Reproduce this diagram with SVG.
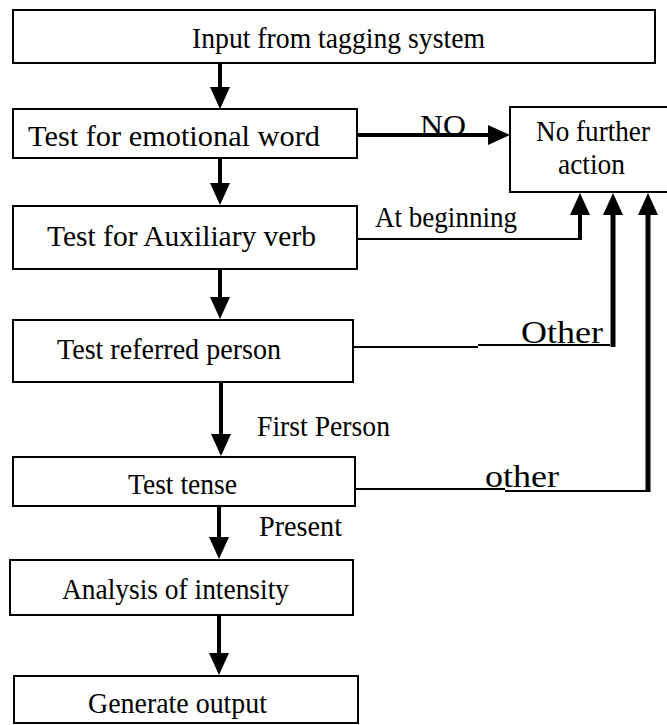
<svg xmlns="http://www.w3.org/2000/svg" width="667" height="725" viewBox="0 0 667 725">
  <style>
    .node rect { fill: #fff; stroke: #000; stroke-width: 2; }
    text { font-family: "Liberation Serif", "Times New Roman", serif; font-size: 30px; fill: #000; }
    .lbl { font-size: 29px; }
    .big { font-size: 31px; }
    .flow { stroke: #000; stroke-width: 4; fill: none; }
    .thin { stroke: #000; stroke-width: 2; fill: none; }
    .thick { stroke: #000; stroke-width: 5; fill: none; }
  </style>
  <defs>
    <!-- solid triangular head; line ends 4px inside the base, tip 18px beyond -->
    <marker id="head" viewBox="0 0 22 20" refX="4" refY="10" markerWidth="22" markerHeight="20" markerUnits="userSpaceOnUse" orient="auto">
      <path d="M0,0 L22,10 L0,20 z" fill="#000"/>
    </marker>
  </defs>

  <!-- connectors -->
  <g id="connectors">
    <line class="flow" x1="220" y1="63" x2="220" y2="91" marker-end="url(#head)"/>
    <line class="flow" x1="220" y1="158" x2="220" y2="187" marker-end="url(#head)"/>
    <line class="flow" x1="220" y1="269" x2="220" y2="301" marker-end="url(#head)"/>
    <line class="flow" x1="221" y1="382" x2="221" y2="438" marker-end="url(#head)"/>
    <line class="flow" x1="219" y1="506" x2="219" y2="541" marker-end="url(#head)"/>
    <line class="flow" x1="219" y1="615" x2="219" y2="657" marker-end="url(#head)"/>

    <!-- NO branch -->
    <line class="flow" x1="357" y1="135" x2="492" y2="135" marker-end="url(#head)"/>

    <!-- At beginning branch -->
    <polyline class="thin" points="357,239 580,239"/>
    <line class="flow" x1="580" y1="240" x2="580" y2="211" marker-end="url(#head)"/>

    <!-- Other branch -->
    <polyline class="thin" points="353,347 478,347"/>
    <polyline class="thin" points="478,345 610,345"/>
    <line class="thick" x1="613" y1="347" x2="613" y2="211" marker-end="url(#head)"/>

    <!-- other branch -->
    <polyline class="thin" points="355,489 505,489"/>
    <polyline class="thin" points="505,491 648,491"/>
    <line class="thick" x1="648" y1="492" x2="648" y2="211" marker-end="url(#head)"/>
  </g>

  <!-- nodes -->
  <g id="input" class="node">
    <rect x="13" y="10" width="642" height="53"/>
    <text x="192" y="48" textLength="293" lengthAdjust="spacingAndGlyphs">Input from tagging system</text>
  </g>
  <g id="emotional" class="node">
    <rect x="13" y="109" width="344" height="49"/>
    <text x="28" y="146" textLength="292" lengthAdjust="spacingAndGlyphs">Test for emotional word</text>
  </g>
  <g id="nofurther" class="node">
    <rect x="510" y="107" width="170" height="85"/>
    <text x="536" y="141" textLength="114" lengthAdjust="spacingAndGlyphs">No further</text>
    <text x="558" y="174" textLength="67" lengthAdjust="spacingAndGlyphs">action</text>
  </g>
  <g id="auxiliary" class="node">
    <rect x="13" y="206" width="344" height="63"/>
    <text x="47" y="246" textLength="269" lengthAdjust="spacingAndGlyphs">Test for Auxiliary verb</text>
  </g>
  <g id="person" class="node">
    <rect x="13" y="320" width="340" height="62"/>
    <text x="57" y="359" textLength="224" lengthAdjust="spacingAndGlyphs">Test referred person</text>
  </g>
  <g id="tense" class="node">
    <rect x="13" y="457" width="342" height="49"/>
    <text x="128" y="494" textLength="109" lengthAdjust="spacingAndGlyphs">Test tense</text>
  </g>
  <g id="intensity" class="node">
    <rect x="10" y="560" width="343" height="55"/>
    <text x="62" y="599" textLength="227" lengthAdjust="spacingAndGlyphs">Analysis of intensity</text>
  </g>
  <g id="output" class="node">
    <rect x="14" y="676" width="344" height="47"/>
    <text x="88" y="713" textLength="179" lengthAdjust="spacingAndGlyphs">Generate output</text>
  </g>

  <!-- branch labels -->
  <g id="labels">
    <text class="lbl" x="420" y="135" textLength="46" lengthAdjust="spacingAndGlyphs">NO</text>
    <text class="lbl" x="375" y="227" textLength="142" lengthAdjust="spacingAndGlyphs">At beginning</text>
    <text class="big" x="521" y="343" textLength="82" lengthAdjust="spacingAndGlyphs">Other</text>
    <text class="big" x="485" y="487" textLength="74" lengthAdjust="spacingAndGlyphs">other</text>
    <text class="lbl" x="257" y="436" textLength="133" lengthAdjust="spacingAndGlyphs">First Person</text>
    <text class="lbl" x="259" y="536" textLength="83" lengthAdjust="spacingAndGlyphs">Present</text>
  </g>
</svg>
